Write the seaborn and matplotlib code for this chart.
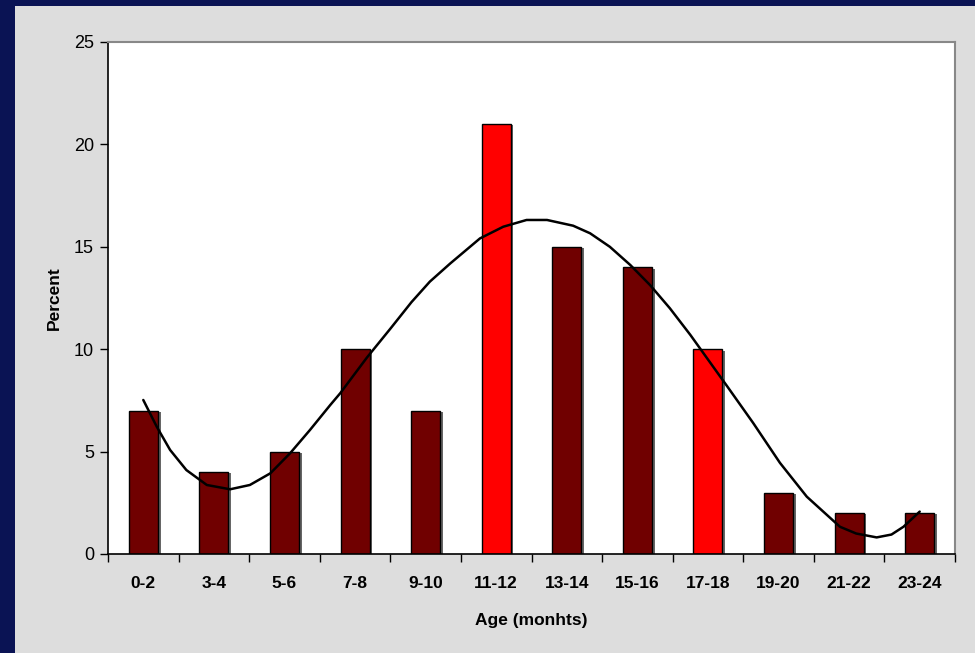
import numpy as np
import pandas as pd
import seaborn as sns
import matplotlib.pyplot as plt
from matplotlib.patches import Rectangle
import matplotlib.patheffects as pe

ages = ["0-2", "3-4", "5-6", "7-8", "9-10", "11-12", "13-14", "15-16", "17-18", "19-20", "21-22", "23-24"]
percent = [7, 4, 5, 10, 7, 21, 15, 14, 10, 3, 2, 2]
bar_colors = ["#700000", "#700000", "#700000", "#700000", "#700000", "#ff0000",
              "#700000", "#700000", "#ff0000", "#700000", "#700000", "#700000"]

# trend curve (category index, percent)
trend_pos = [0, 0.19, 0.38, 0.61, 0.90, 1.23, 1.51, 1.80, 2.08, 2.36, 2.65, 2.79, 3.17, 3.50,
             3.80, 4.06, 4.35, 4.77, 5.10, 5.43, 5.72, 6.09, 6.33, 6.61, 6.90, 7.18, 7.46,
             7.75, 8.27, 8.64, 9.02, 9.40, 9.87, 10.10, 10.39, 10.60, 10.77, 11.0]
trend_val = [7.52, 6.22, 5.08, 4.10, 3.37, 3.16, 3.37, 3.94, 4.92, 6.05, 7.28, 7.85, 9.6, 11.0,
             12.3, 13.3, 14.19, 15.41, 15.98, 16.31, 16.31, 16.03, 15.66, 15.0, 14.11, 13.13, 12.0,
             10.7, 8.2, 6.4, 4.45, 2.8, 1.33, 1.0, 0.81, 0.95, 1.33, 2.07]

df = pd.DataFrame({"age": ages, "percent": percent})
trend = pd.DataFrame({"pos": trend_pos, "val": trend_val})

sns.set_style("white")
plt.rcParams['font.family'] = ['Liberation Sans', 'DejaVu Sans']
plt.rcParams['text.color'] = 'black'
plt.rcParams['axes.labelcolor'] = 'black'
plt.rcParams['xtick.color'] = 'black'
plt.rcParams['ytick.color'] = 'black'

fig = plt.figure(figsize=(9.75, 6.53), dpi=100)
fig.patch.set_facecolor("#0a1354")
fig.patches.append(Rectangle((15 / 975, 0), 1, (653 - 6) / 653, transform=fig.transFigure,
                             facecolor="#dddddd", edgecolor="none", zorder=-10))

ax = fig.add_axes([108 / 975, 1 - 554 / 653, (955 - 108) / 975, (554 - 42) / 653])
ax.set_facecolor("white")

sns.barplot(data=df, x="age", y="percent", hue="age", palette=bar_colors, legend=False,
            width=0.41, edgecolor="black", linewidth=1, saturation=1, ax=ax)
for p in ax.patches:
    p.set_path_effects([pe.SimplePatchShadow(offset=(2, -1), shadow_rgbFace="#555555", alpha=0.9),
                        pe.Normal()])

sns.lineplot(data=trend, x="pos", y="val", color="black", lw=1.8, ax=ax, zorder=5)
for ln in ax.lines:
    ln.set_solid_joinstyle("round")

ax.set_xlim(-0.5, len(percent) - 0.5)
ax.set_ylim(0, 25)
ax.set_yticks(range(0, 26, 5))
ax.set_xticks(range(len(ages)))
ax.set_xticklabels(ages)
ax.set_xticks(np.arange(-0.5, len(percent)), minor=True)
ax.tick_params(axis="x", which="major", length=0, pad=16, labelsize=12.5)
ax.tick_params(axis="x", which="minor", length=6, width=1, color="black", direction="out", bottom=True)
ax.tick_params(axis="y", length=6, width=1, direction="out", left=True, labelsize=13, pad=4)
for lab in ax.get_xticklabels():
    lab.set_fontweight("bold")

for s in ["left", "bottom"]:
    ax.spines[s].set_color("black")
    ax.spines[s].set_linewidth(1.2)
for s in ["top", "right"]:
    ax.spines[s].set_color("#888888")
    ax.spines[s].set_linewidth(1.5)

ax.set_xlabel("Age (monhts)", fontsize=12.5, fontweight="bold", labelpad=16)
ax.set_ylabel("Percent", fontsize=12.5, fontweight="bold", labelpad=9)

fig.savefig("out.png", dpi=100, facecolor=fig.get_facecolor())
